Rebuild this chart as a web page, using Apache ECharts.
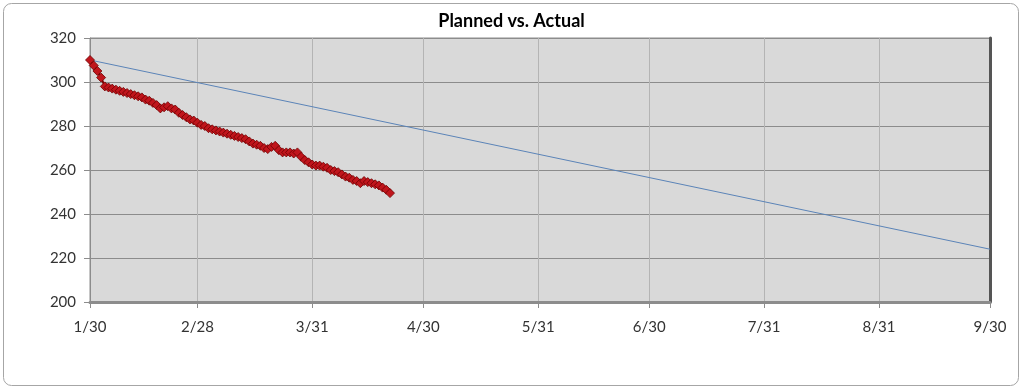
<!DOCTYPE html>
<html>
<head>
<meta charset="utf-8">
<script src="https://cdn.jsdelivr.net/npm/echarts@6/dist/echarts.min.js"></script>
<style>
html,body{margin:0;padding:0;background:#fff;}
#c{width:1023px;height:390px;}
</style>
</head>
<body>
<div id="c"></div>
<script>
// Days since 1/30 for each axis tick, and their labels
var tickDays = [0, 29, 60, 90, 121, 151, 182, 213, 243];
var tickLabels = ['1/30', '2/28', '3/31', '4/30', '5/31', '6/30', '7/31', '8/31', '9/30'];
var yTicks = [200, 220, 240, 260, 280, 300, 320];

// Planned: straight line start / end (day, value)
var plannedDays = [0, 243];
var plannedValues = [310, 224];

// Actual: one value per day starting 1/30
var actualValues = [
  310, 307.5, 305, 302, 298, 297.5, 297, 296.5, 296, 295.5,
  295, 294.5, 294, 293.5, 293, 292, 291.5, 290.5, 289.5, 288,
  288.5, 289, 288, 287.5, 286, 285, 284, 283, 282.5, 281.5,
  280.5, 280, 279, 278.5, 278, 277.5, 277, 276.5, 276, 275.5,
  275, 274.5, 274, 273, 272, 271.5, 271, 270, 269.5, 270.5,
  271, 269, 268, 268, 268, 267.5, 268, 266, 264.5, 263.5,
  262.5, 262, 262, 261.5, 261, 260, 259.5, 259, 258, 257,
  256.5, 255.5, 255, 254, 255, 254.5, 254, 253.5, 253, 252,
  251, 249.5
];

var actualData = actualValues.map(function (v, i) { return [i, v]; });
var plannedData = plannedDays.map(function (d, i) { return [d, plannedValues[i]]; });

var font = 'Lato, "Open Sans", sans-serif';
var chart = echarts.init(document.getElementById('c'));
chart.setOption({
  backgroundColor: '#fff',
  animation: false,
  title: {
    text: 'Planned vs. Actual',
    left: 'center',
    top: 7,
    textStyle: { fontFamily: font, fontSize: 18, fontWeight: 'bold', color: '#000' }
  },
  graphic: [{
    type: 'rect',
    shape: { x: 3.5, y: 3.5, width: 1015, height: 382, r: 8 },
    style: { fill: 'none', stroke: '#a6a6a6', lineWidth: 1 },
    z: 0, silent: true
  }],
  grid: {
    left: 90, right: 33, top: 38, bottom: 88,
    show: true,
    backgroundColor: '#d9d9d9',
    borderColor: '#8c8c8c',
    borderWidth: 1
  },
  xAxis: {
    type: 'value',
    min: 0,
    max: 243,
    axisLine: { show: true, lineStyle: { color: '#8c8c8c', width: 3 } },
    axisTick: { show: true, customValues: tickDays, length: 6, lineStyle: { color: '#8c8c8c' } },
    axisLabel: {
      customValues: tickDays,
      margin: 18,
      fontFamily: font, fontSize: 15, color: '#333',
      formatter: function (v) {
        var i = tickDays.indexOf(Math.round(v));
        return i >= 0 ? tickLabels[i] : '';
      }
    },
    splitLine: { show: true, lineStyle: { color: '#b4b4b4', width: 1 } }
  },
  yAxis: [{
    type: 'value',
    min: yTicks[0],
    max: yTicks[yTicks.length - 1],
    interval: 20,
    axisLine: { show: true, lineStyle: { color: '#8c8c8c', width: 1 } },
    axisTick: { show: true, length: 6, lineStyle: { color: '#8c8c8c' } },
    axisLabel: { margin: 14, fontFamily: font, fontSize: 15, color: '#333' },
    splitLine: { show: true, lineStyle: { color: '#8c8c8c', width: 1 } }
  }, {
    type: 'value',
    position: 'right',
    min: yTicks[0],
    max: yTicks[yTicks.length - 1],
    interval: 20,
    axisLine: { show: true, lineStyle: { color: '#555', width: 3 } },
    axisTick: { show: false },
    axisLabel: { show: false },
    splitLine: { show: false }
  }],
  series: [{
    name: 'Planned',
    type: 'line',
    data: plannedData,
    showSymbol: false,
    symbol: 'none',
    lineStyle: { color: '#5b84b8', width: 1 },
    z: 2
  }, {
    name: 'Actual',
    type: 'line',
    data: actualData,
    symbol: 'diamond',
    symbolSize: 9,
    itemStyle: { color: '#c0151c', borderColor: '#6e0000', borderWidth: 0.8 },
    lineStyle: { color: '#7a0000', width: 2 },
    z: 3
  }]
});
</script>
</body>
</html>
